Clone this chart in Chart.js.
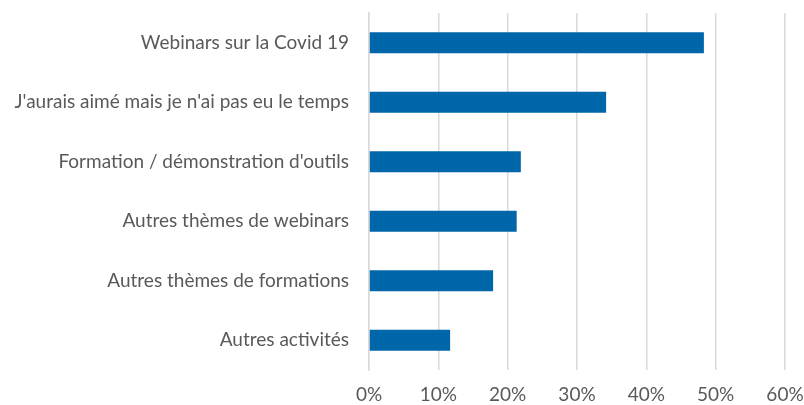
<!DOCTYPE html>
<html lang="fr">
  <head>
    <meta charset="UTF-8" />
    <title>Activités souhaitées</title>
    <script src="https://cdn.jsdelivr.net/npm/chart.js"></script>
    <style>
      html, body { margin: 0; padding: 0; background: #fff; }
      #wrap { width: 804px; height: 405px; }
    </style>
  </head>
  <body>
    <div id="wrap"><canvas id="chart"></canvas></div>

    <script>
      // Données
      const categories = [
        "Webinars sur la Covid 19",
        "J'aurais aimé mais je n'ai pas eu le temps",
        "Formation / démonstration d'outils",
        "Autres thèmes de webinars",
        "Autres thèmes de formations",
        "Autres activités",
      ];
      const values = [48.3, 34.2, 21.9, 21.3, 17.9, 11.7];
      const xTicks = [0, 10, 20, 30, 40, 50, 60];

      const font = "Lato, 'Open Sans', sans-serif";

      new Chart(document.getElementById("chart"), {
        type: "bar",
        data: {
          labels: categories,
          datasets: [
            {
              data: values,
              backgroundColor: "#0066aa",
              categoryPercentage: 1,
              barPercentage: 0.355,
            },
          ],
        },
        options: {
          indexAxis: "y",
          responsive: true,
          maintainAspectRatio: false,
          animation: false,
          layout: { padding: { top: 13, right: 19, bottom: 0, left: 0 } },
          plugins: { legend: { display: false }, tooltip: { enabled: false } },
          scales: {
            x: {
              min: 0,
              max: 60,
              afterBuildTicks: (s) => {
                s.ticks = xTicks.map((v) => ({ value: v }));
              },
              afterFit: (s) => {
                s.height = 35;
                s.paddingLeft = 0;
                s.paddingRight = 0;
              },
              grid: { color: "#d9d9d9", lineWidth: 1.5, drawTicks: false },
              border: { display: false },
              ticks: {
                padding: 13,
                color: "#595959",
                font: { family: font, size: 19 },
                callback: (v) => v + "%",
              },
            },
            y: {
              afterFit: (s) => {
                s.width = 369;
                s.paddingTop = 0;
                s.paddingBottom = 0;
              },
              grid: { display: false, drawTicks: false },
              border: { display: true, color: "#d9d9d9", width: 1.5 },
              ticks: {
                padding: 20,
                color: "#595959",
                font: { family: font, size: 19 },
              },
            },
          },
        },
      });
    </script>
  </body>
</html>
